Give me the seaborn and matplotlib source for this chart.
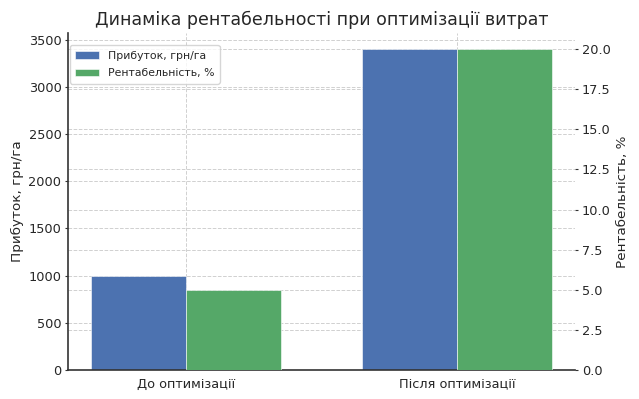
import pandas as pd
import matplotlib
matplotlib.use("Agg")
import matplotlib.pyplot as plt
from matplotlib.ticker import FixedLocator
import seaborn as sns

# --- données ---
stages = ["До оптимізації", "Після оптимізації"]
profit = [1000, 3400]          # грн/га
rentab = [5.0, 20.0]           # %
series = ["Прибуток, грн/га", "Рентабельність, %"]
colors = ["#4C72B0", "#55A868"]
rentab_ticks = [0, 2.5, 5, 7.5, 10, 12.5, 15, 17.5, 20]

sns.set_style("whitegrid")
plt.rcParams["font.family"] = ["DejaVu Sans"]

df_p = pd.DataFrame({"stage": stages, "val": profit, "series": series[0]})
df_r = pd.DataFrame({"stage": stages, "val": rentab, "series": series[1]})

fig, ax1 = plt.subplots(figsize=(6.39, 3.99), dpi=100)
ax2 = ax1.twinx()

sns.barplot(data=df_p, x="stage", y="val", hue="series", hue_order=series,
            palette=colors, width=0.7, dodge=True, ax=ax1,
            edgecolor="white", linewidth=0.4, saturation=1)
sns.barplot(data=df_r, x="stage", y="val", hue="series", hue_order=series,
            palette=colors, width=0.7, dodge=True, ax=ax2,
            edgecolor="white", linewidth=0.4, saturation=1)

y1max = max(profit) * 1.05
y2max = max(rentab) * 1.05
ax1.set_ylim(0, y1max)
ax2.set_ylim(0, y2max)
ax1.set_xlim(-0.435, 1.435)
ax2.yaxis.set_major_locator(FixedLocator(rentab_ticks))

ax1.set_xlabel("")
ax1.set_ylabel("Прибуток, грн/га", fontsize=9.7, labelpad=3)
ax2.set_ylabel("Рентабельність, %", fontsize=9.7, labelpad=4)
ax1.tick_params(axis="both", labelsize=9.3, length=2.5, pad=2, color="#333333",
                left=True, bottom=False)
ax1.tick_params(axis="x", pad=3)
ax2.tick_params(axis="y", labelsize=9.3, length=2.5, pad=2.5, color="#333333", right=True)

# grille : celle de l'axe droit reportée sous les barres de l'axe gauche
ax1.set_axisbelow(True)
ax1.yaxis.set_minor_locator(FixedLocator([t * y1max / y2max for t in rentab_ticks]))
ax1.tick_params(axis="y", which="minor", length=0)
ax1.grid(True, which="major", linestyle="--", color="#d0d0d0", linewidth=0.7)
ax1.grid(True, which="minor", axis="y", linestyle="--", color="#d0d0d0", linewidth=0.7)
ax2.grid(False)

for ax in (ax1, ax2):
    for s in ax.spines.values():
        s.set_visible(False)
for side in ("left", "bottom"):
    ax1.spines[side].set_visible(True)
    ax1.spines[side].set_color("#333333")
    ax1.spines[side].set_linewidth(1.2)

# légende combinée
handles, labels = ax1.get_legend_handles_labels()
if ax2.get_legend() is not None:
    ax2.get_legend().remove()
ax1.legend(handles, labels, loc="upper left", bbox_to_anchor=(0.004, 0.964),
           borderaxespad=0, fontsize=7.8, labelspacing=0.7, handlelength=2.2,
           handletextpad=0.8, borderpad=0.5, frameon=True)

ax1.set_title("Динаміка рентабельності при оптимізації витрат", fontsize=12.5)

plt.subplots_adjust(left=0.106, right=0.900, top=0.917, bottom=0.073)
plt.savefig("out.png", dpi=100)
plt.close()
